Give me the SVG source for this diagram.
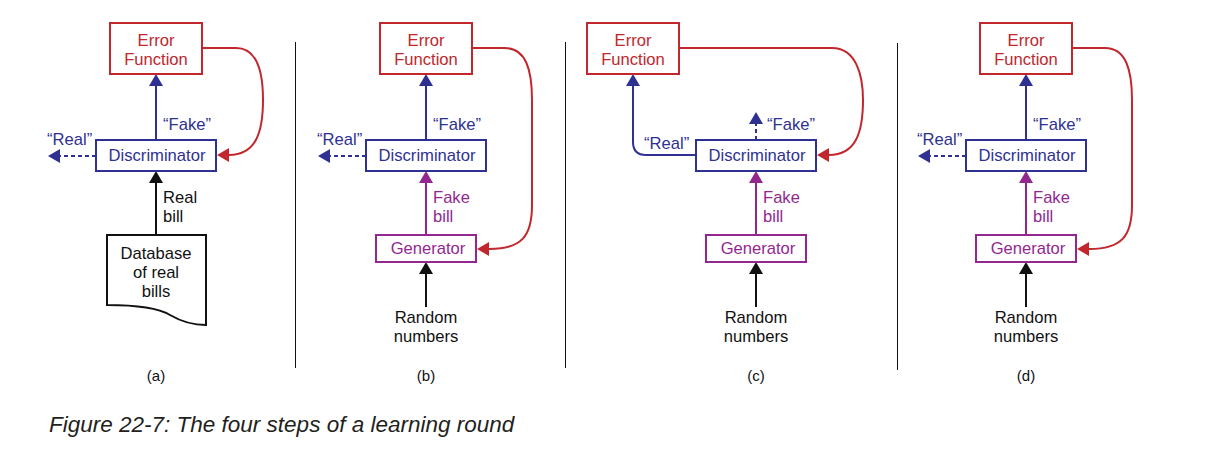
<svg xmlns="http://www.w3.org/2000/svg" width="1216" height="455" viewBox="0 0 1216 455">
<defs>
<style>
text{font-family:"Liberation Sans",Arial,sans-serif;font-size:16.6px;}
.c{text-anchor:middle;}
.red{fill:#c1272d;} .blue{fill:#2e3192;} .pur{fill:#93278f;} .blk{fill:#111;}
.box{fill:#fff;stroke-width:2;}
.rb{stroke:#c1272d;} .bb{stroke:#2e3192;} .pb{stroke:#93278f;}
.ln{fill:none;stroke-width:2;}
.dash{stroke-dasharray:4 3;}
.lbl{font-size:15px;fill:#111;}
.cap{font-size:22.5px;font-style:italic;fill:#231f20;}
.div{stroke:#111;stroke-width:1;}
</style>
<marker id="ar" markerUnits="userSpaceOnUse" markerWidth="13" markerHeight="14" refX="0" refY="7" orient="auto"><path d="M0,0 L12,7 L0,14 z" fill="#c1272d"/></marker>
<marker id="ab" markerUnits="userSpaceOnUse" markerWidth="13" markerHeight="14" refX="0" refY="7" orient="auto"><path d="M0,0 L12,7 L0,14 z" fill="#2e3192"/></marker>
<marker id="ap" markerUnits="userSpaceOnUse" markerWidth="13" markerHeight="14" refX="0" refY="7" orient="auto"><path d="M0,0 L12,7 L0,14 z" fill="#93278f"/></marker>
<marker id="ak" markerUnits="userSpaceOnUse" markerWidth="13" markerHeight="14" refX="0" refY="7" orient="auto"><path d="M0,0 L12,7 L0,14 z" fill="#111"/></marker>
</defs>

<g id="connectors">
<!-- (a) -->
<path class="ln bb" d="M156,140 V86" marker-end="url(#ab)"/>
<path class="ln bb dash" d="M96,156 H60" marker-end="url(#ab)"/>
<path class="ln rb" d="M202,48 H236 C258,48 263,75 263,100 C263,132 256,155 229,155" marker-end="url(#ar)"/>
<path class="ln" stroke="#111" d="M156,235 V183" marker-end="url(#ak)"/>
<!-- (b) -->
<path class="ln bb" d="M426,140 V86" marker-end="url(#ab)"/>
<path class="ln bb dash" d="M366,156 H330" marker-end="url(#ab)"/>
<path class="ln rb" d="M472,48 H505 C526,48 532,70 532,100 V205 C532,236 522,249 489,249" marker-end="url(#ar)"/>
<path class="ln pb" d="M426,235 V183" marker-end="url(#ap)"/>
<path class="ln" stroke="#111" d="M426,307 V274" marker-end="url(#ak)"/>
<!-- (c) -->
<path class="ln bb" d="M696,155 H646 Q633,155 633,142 V86" marker-end="url(#ab)"/>
<path class="ln bb dash" d="M756,140 V124" marker-end="url(#ab)"/>
<path class="ln rb" d="M679,48 H832 C856,48 863,75 863,100 C863,132 856,155 829,155" marker-end="url(#ar)"/>
<path class="ln pb" d="M756,235 V183" marker-end="url(#ap)"/>
<path class="ln" stroke="#111" d="M756,307 V274" marker-end="url(#ak)"/>
<!-- (d) -->
<path class="ln bb" d="M1026,140 V86" marker-end="url(#ab)"/>
<path class="ln bb dash" d="M966,156 H930" marker-end="url(#ab)"/>
<path class="ln rb" d="M1072,48 H1105 C1126,48 1132,70 1132,100 V205 C1132,236 1122,249 1089,249" marker-end="url(#ar)"/>
<path class="ln pb" d="M1026,235 V183" marker-end="url(#ap)"/>
<path class="ln" stroke="#111" d="M1026,307 V274" marker-end="url(#ak)"/>
</g>

<g id="edge-labels">
<text class="blue" x="47" y="145">“Real”</text>
<text class="blue" x="163" y="130">“Fake”</text>
<text class="blk" x="163" y="203">Real</text>
<text class="blk" x="163" y="222">bill</text>

<text class="blue" x="317" y="145">“Real”</text>
<text class="blue" x="433" y="130">“Fake”</text>
<text class="pur" x="433" y="203">Fake</text>
<text class="pur" x="433" y="222">bill</text>

<text class="blue" x="644" y="149">“Real”</text>
<text class="blue" x="767" y="130">“Fake”</text>
<text class="pur" x="763" y="203">Fake</text>
<text class="pur" x="763" y="222">bill</text>

<text class="blue" x="917" y="145">“Real”</text>
<text class="blue" x="1033" y="130">“Fake”</text>
<text class="pur" x="1033" y="203">Fake</text>
<text class="pur" x="1033" y="222">bill</text>
</g>

<!-- Panel (a) -->
<g id="a-error">
<rect class="box rb" x="110" y="23" width="92" height="51"/>
<text class="c red" x="156" y="46">Error</text>
<text class="c red" x="156" y="65">Function</text>
</g>
<g id="a-discriminator">
<rect class="box bb" x="96" y="140" width="120" height="31"/>
<text class="c blue" x="157" y="161">Discriminator</text>
</g>
<g id="a-database">
<path d="M107,235 H206 V325 C194,325 182,322 170,315 C160,309 142,305 107,305 Z" fill="#fff" stroke="#111" stroke-width="2"/>
<text class="c blk" x="156" y="259">Database</text>
<text class="c blk" x="156" y="278">of real</text>
<text class="c blk" x="156" y="297">bills</text>
</g>
<text class="c lbl" x="156" y="381">(a)</text>

<!-- Panel (b) -->
<g id="b-error">
<rect class="box rb" x="380" y="23" width="92" height="51"/>
<text class="c red" x="426" y="46">Error</text>
<text class="c red" x="426" y="65">Function</text>
</g>
<g id="b-discriminator">
<rect class="box bb" x="366" y="140" width="120" height="31"/>
<text class="c blue" x="427" y="161">Discriminator</text>
</g>
<g id="b-generator">
<rect class="box pb" x="376" y="235" width="100" height="27"/>
<text class="c pur" x="428" y="254">Generator</text>
</g>
<g id="b-random">
<text class="c blk" x="426" y="323">Random</text>
<text class="c blk" x="426" y="342">numbers</text>
</g>
<text class="c lbl" x="426" y="381">(b)</text>

<!-- Panel (c) -->
<g id="c-error">
<rect class="box rb" x="587" y="23" width="92" height="51"/>
<text class="c red" x="633" y="46">Error</text>
<text class="c red" x="633" y="65">Function</text>
</g>
<g id="c-discriminator">
<rect class="box bb" x="696" y="140" width="120" height="31"/>
<text class="c blue" x="757" y="161">Discriminator</text>
</g>
<g id="c-generator">
<rect class="box pb" x="706" y="235" width="100" height="27"/>
<text class="c pur" x="758" y="254">Generator</text>
</g>
<g id="c-random">
<text class="c blk" x="756" y="323">Random</text>
<text class="c blk" x="756" y="342">numbers</text>
</g>
<text class="c lbl" x="756" y="381">(c)</text>

<!-- Panel (d) -->
<g id="d-error">
<rect class="box rb" x="980" y="23" width="92" height="51"/>
<text class="c red" x="1026" y="46">Error</text>
<text class="c red" x="1026" y="65">Function</text>
</g>
<g id="d-discriminator">
<rect class="box bb" x="966" y="140" width="120" height="31"/>
<text class="c blue" x="1027" y="161">Discriminator</text>
</g>
<g id="d-generator">
<rect class="box pb" x="976" y="235" width="100" height="27"/>
<text class="c pur" x="1028" y="254">Generator</text>
</g>
<g id="d-random">
<text class="c blk" x="1026" y="323">Random</text>
<text class="c blk" x="1026" y="342">numbers</text>
</g>
<text class="c lbl" x="1026" y="381">(d)</text>

<g id="dividers">
<line class="div" x1="295.5" y1="42" x2="295.5" y2="368"/>
<line class="div" x1="565.5" y1="42" x2="565.5" y2="368"/>
<line class="div" x1="897.5" y1="43" x2="897.5" y2="370"/>
</g>

<text class="cap" x="49" y="432">Figure 22-7: The four steps of a learning round</text>
</svg>
